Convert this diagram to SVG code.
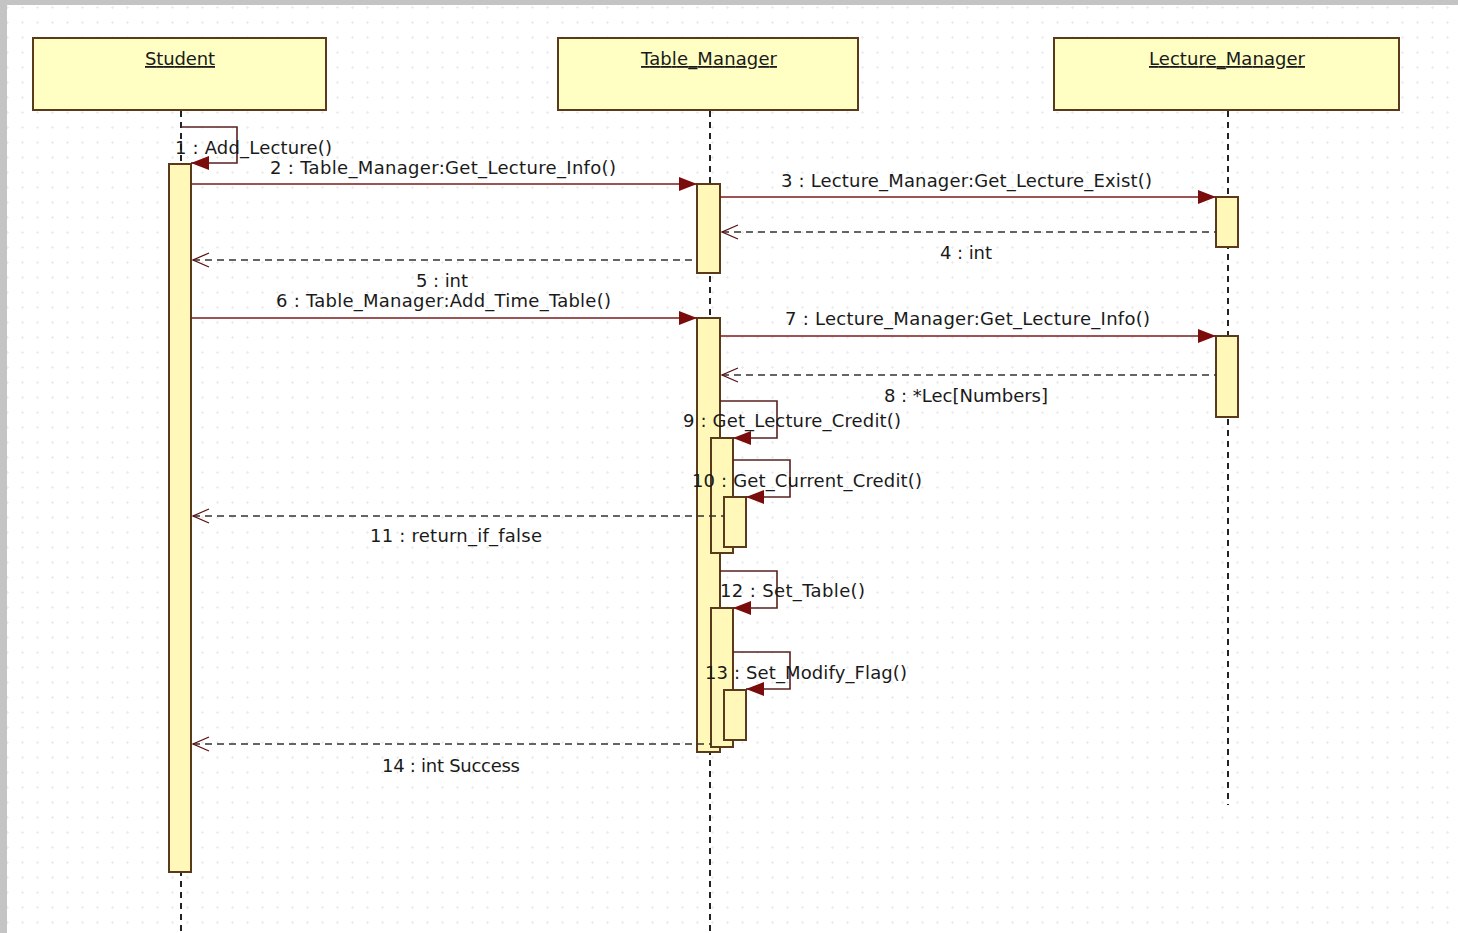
<svg xmlns="http://www.w3.org/2000/svg" width="1458" height="933" viewBox="0 0 1458 933">
<defs>
<pattern id="grid" x="0" y="0" width="15" height="15" patternUnits="userSpaceOnUse">
<rect x="6" y="7" width="3" height="1" fill="#ececec"/>
<rect x="7" y="6" width="1" height="3" fill="#ececec"/>
</pattern>
<marker id="filled" viewBox="0 0 18 14" refX="18" refY="7" markerWidth="18" markerHeight="14" markerUnits="userSpaceOnUse" orient="auto">
<path d="M0,0 L18,7 L0,14 Z" fill="#7a0c0c"/>
</marker>
<marker id="open" viewBox="0 0 18 16" refX="1" refY="8" markerWidth="18" markerHeight="16" markerUnits="userSpaceOnUse" orient="auto">
<path d="M17,1 L1,8 L17,15" fill="none" stroke="#5a1010" stroke-width="1.3"/>
</marker>
</defs>
<style>
.head{fill:#ffffc4;stroke:#5a3a1a;stroke-width:2}
.act{fill:#fff8b8;stroke:#5a3a1a;stroke-width:2}
.life{stroke:#222;stroke-width:2;stroke-dasharray:6,5;fill:none}
.msg{stroke:#7a1a1a;stroke-width:1.6;fill:none}
.self{stroke:#5a2020;stroke-width:1.6;fill:none}
.ret{stroke:#333;stroke-width:1.6;stroke-dasharray:7,5;fill:none}
text{font-family:"DejaVu Sans","Liberation Sans",sans-serif;font-size:18px;fill:#1a1a1a}
.ht{text-anchor:middle;text-decoration:underline}
</style>
<rect x="0" y="0" width="1458" height="933" fill="#ffffff"/>
<rect x="0" y="0" width="1458" height="933" fill="url(#grid)"/>
<rect x="0" y="0" width="1458" height="5" fill="#c4c4c4"/>
<rect x="0" y="0" width="7" height="933" fill="#c4c4c4"/>

<g id="lifelines">
<line class="life" x1="181" y1="111" x2="181" y2="933"/>
<line class="life" x1="710" y1="111" x2="710" y2="933"/>
<line class="life" x1="1228" y1="111" x2="1228" y2="805"/>
</g>

<g id="student">
<rect class="head" x="33" y="38" width="293" height="72"/>
<text class="ht" x="180" y="65" textLength="70">Student</text>
<rect class="act" x="169" y="164" width="22" height="708"/>
</g>

<g id="table_manager">
<rect class="head" x="558" y="38" width="300" height="72"/>
<text class="ht" x="709" y="65" textLength="136">Table_Manager</text>
<rect class="act" x="697" y="184" width="23" height="89"/>
<rect class="act" x="697" y="318" width="23" height="434"/>
<rect class="act" x="711" y="438" width="22" height="115"/>
<rect class="act" x="724" y="497" width="22" height="50"/>
<rect class="act" x="711" y="608" width="22" height="139"/>
<rect class="act" x="724" y="690" width="22" height="50"/>
</g>

<g id="lecture_manager">
<rect class="head" x="1054" y="38" width="345" height="72"/>
<text class="ht" x="1227" y="65" textLength="156">Lecture_Manager</text>
<rect class="act" x="1216" y="197" width="22" height="50"/>
<rect class="act" x="1216" y="336" width="22" height="81"/>
</g>

<g id="connectors">
<polyline class="self" points="181,127 237,127 237,163 191,163" marker-end="url(#filled)"/>
<line class="msg" x1="191" y1="184" x2="697" y2="184" marker-end="url(#filled)"/>
<line class="msg" x1="720" y1="197" x2="1216" y2="197" marker-end="url(#filled)"/>
<line class="ret" x1="722" y1="232" x2="1216" y2="232" marker-start="url(#open)"/>
<line class="ret" x1="193" y1="260" x2="697" y2="260" marker-start="url(#open)"/>
<line class="msg" x1="191" y1="318" x2="697" y2="318" marker-end="url(#filled)"/>
<line class="msg" x1="720" y1="336" x2="1216" y2="336" marker-end="url(#filled)"/>
<line class="ret" x1="722" y1="375" x2="1216" y2="375" marker-start="url(#open)"/>
<polyline class="self" points="720,401 777,401 777,438 733,438" marker-end="url(#filled)"/>
<polyline class="self" points="733,460 790,460 790,497 746,497" marker-end="url(#filled)"/>
<line class="ret" x1="193" y1="516" x2="724" y2="516" marker-start="url(#open)"/>
<polyline class="self" points="720,571 777,571 777,608 733,608" marker-end="url(#filled)"/>
<polyline class="self" points="733,652 790,652 790,689 746,689" marker-end="url(#filled)"/>
<line class="ret" x1="193" y1="744" x2="711" y2="744" marker-start="url(#open)"/>
</g>

<g id="labels">
<text x="175" y="154" textLength="157">1 : Add_Lecture()</text>
<text x="270" y="174" textLength="346">2 : Table_Manager:Get_Lecture_Info()</text>
<text x="781" y="187" textLength="371">3 : Lecture_Manager:Get_Lecture_Exist()</text>
<text x="940" y="259" textLength="52">4 : int</text>
<text x="416" y="287" textLength="52">5 : int</text>
<text x="276" y="307" textLength="335">6 : Table_Manager:Add_Time_Table()</text>
<text x="785" y="325" textLength="365">7 : Lecture_Manager:Get_Lecture_Info()</text>
<text x="884" y="402" textLength="164">8 : *Lec[Numbers]</text>
<text x="683" y="427" textLength="218">9 : Get_Lecture_Credit()</text>
<text x="692" y="487" textLength="230">10 : Get_Current_Credit()</text>
<text x="370" y="542" textLength="172">11 : return_if_false</text>
<text x="720" y="597" textLength="145">12 : Set_Table()</text>
<text x="705" y="679" textLength="202">13 : Set_Modify_Flag()</text>
<text x="382" y="772" textLength="138">14 : int Success</text>
</g>
</svg>
